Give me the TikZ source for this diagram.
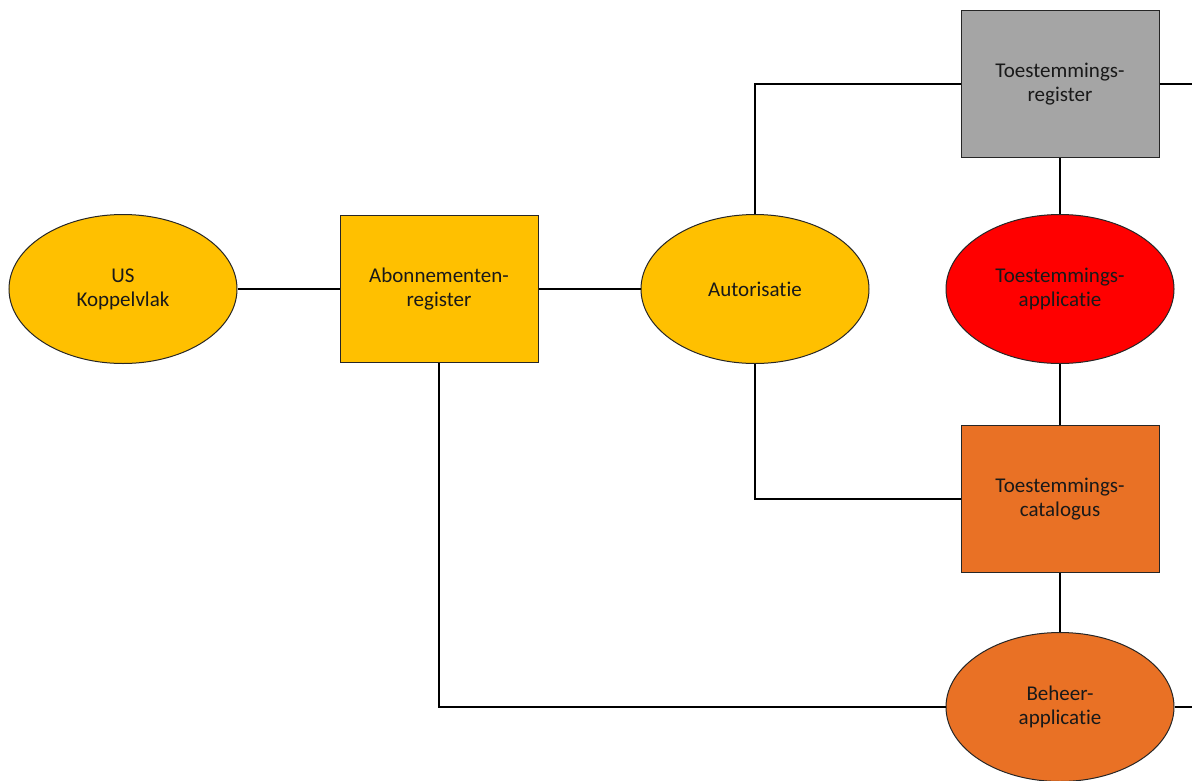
\documentclass[tikz,border=0pt]{standalone}
\usepackage{fontspec}
\setmainfont{Carlito}[Ligatures=NoCommon]
\usetikzlibrary{shapes.geometric}
\definecolor{amber}{HTML}{FFC000}
\definecolor{redfill}{HTML}{FF0000}
\definecolor{orangefill}{HTML}{E97125}
\definecolor{grayfill}{HTML}{A5A5A5}
\tikzset{
  base/.style={draw=black!85, line width=1pt, inner sep=0pt, align=center, text=black!90,
    font=\fontsize{21}{24}\selectfont},
  oval/.style={base, ellipse, minimum width=228pt, minimum height=149pt},
  box/.style={base, rectangle, minimum width=198pt, minimum height=147pt},
  link/.style={draw=black, line width=1.3pt}
}
\begin{document}
\begin{tikzpicture}[x=1pt,y=-1pt]
\useasboundingbox (0,0) rectangle (1192,780);
\clip (0,0) rectangle (1192,780);
\fill[white] (0,0) rectangle (1192,780);
\node[oval, fill=amber] (us) at (123,289) {US\\Koppelvlak};
\node[box, fill=amber] (ab) at (439,289) {Abonnementen-\\register};
\node[oval, fill=amber] (au) at (755,289) {Autorisatie};
\node[box, fill=grayfill] (tr) at (1060,84) {Toestemmings-\\register};
\node[oval, fill=redfill] (ta) at (1060,289) {Toestemmings-\\applicatie};
\node[box, fill=orangefill] (tc) at (1060,499) {Toestemmings-\\catalogus};
\node[oval, fill=orangefill] (bh) at (1060,707) {Beheer-\\applicatie};
\coordinate (c1) at (au.north |- tr.west);
\coordinate (c2) at (au.south |- tc.west);
\coordinate (c3) at (ab.south |- bh.west);
\coordinate (e1) at (1192,0 |- tr.east);
\coordinate (e2) at (1192,0 |- bh.east);
\draw[link] (us.east) -- (ab.west);
\draw[link] (ab.east) -- (au.west);
\draw[link] (au.north) -- (c1) -- (tr.west);
\draw[link] (au.south) -- (c2) -- (tc.west);
\draw[link] (tr.south) -- (ta.north);
\draw[link] (ta.south) -- (tc.north);
\draw[link] (tc.south) -- (bh.north);
\draw[link] (ab.south) -- (c3) -- (bh.west);
\draw[link] (tr.east) -- (e1);
\draw[link] (bh.east) -- (e2);
\end{tikzpicture}
\end{document}
